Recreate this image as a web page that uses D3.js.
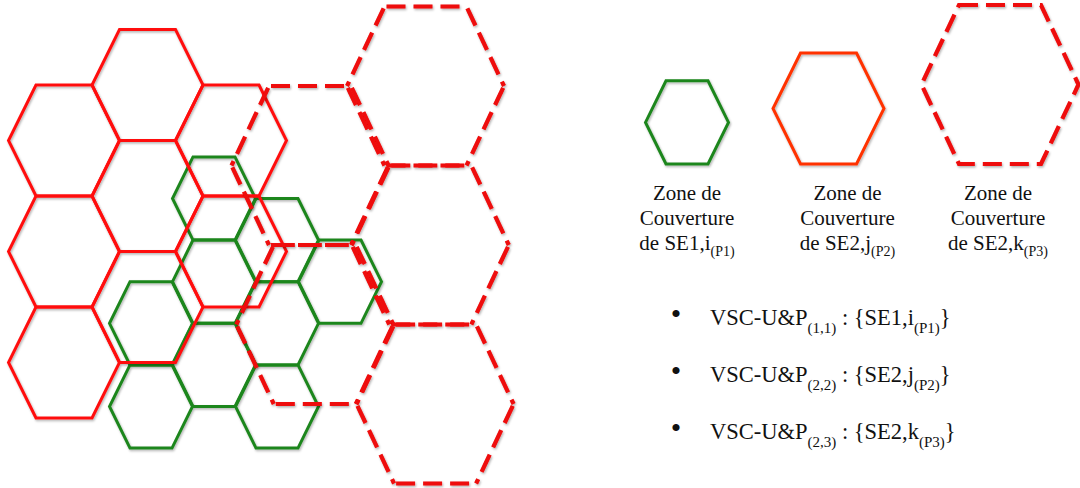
<!DOCTYPE html>
<html>
<head>
<meta charset="utf-8">
<script src="https://cdn.jsdelivr.net/npm/d3@7"></script>
<style>
  body { margin: 0; background: #fff; }
  svg { display: block; }
  text { font-family: "Liberation Serif", "Times New Roman", serif; fill: #111; }
</style>
</head>
<body>
<svg id="chart" width="1080" height="488"></svg>
<script>
// cells of each coverage layer, as [column, half-row] on its own lattice
const greenCells = [[0, 3], [0, 5], [1, 0], [1, 2], [1, 4], [2, 1], [2, 3], [2, 5], [3, 2]];
const redCells = [[0, 1], [0, 3], [0, 5], [1, 0], [1, 2], [1, 4], [2, 1], [2, 3]];
const dashedCells = [[0, 1], [0, 3], [1, 0], [1, 2], [1, 4]];

// legend texts
const legendKeys = ["green", "red", "dashed"];
const legendLine1 = ["Zone de", "Zone de", "Zone de"];
const legendLine2 = ["Couverture", "Couverture", "Couverture"];
const legendLine3 = ["de SE1,i", "de SE2,j", "de SE2,k"];
const legendSub = ["(P1)", "(P2)", "(P3)"];

// bullet list texts
const bulletIndex = ["(1,1)", "(2,2)", "(2,3)"];
const bulletSet = ["SE1,i", "SE2,j", "SE2,k"];
const bulletSub = ["(P1)", "(P2)", "(P3)"];

// hexagon shape per layer: half width, half top edge, half height
let shapes = {
    green:  {w: 41.5, a: 21, h: 41.6, color: "#1e861e", width: 3, dash: null},
    red:    {w: 55.5, a: 28, h: 55.5, color: "#ff1010", width: 3, dash: null},
    dashed: {w: 78.5, a: 41, h: 79.5, color: "#ee0808", width: 4.2, dash: "19,8"}
};

let svg = d3.select("#chart");

let defs = svg.append("defs");
defs.append("filter").attr("id", "shadow")
    .attr("x", "-10%").attr("y", "-10%").attr("width", "130%").attr("height", "130%")
    .append("feDropShadow")
    .attr("dx", 1).attr("dy", 1.5).attr("stdDeviation", 1)
    .attr("flood-color", "#000").attr("flood-opacity", 0.3);

let line = d3.line().curve(d3.curveLinearClosed);

function hexPoints(cx, cy, s) {
    return [[cx - s.a, cy - s.h], [cx + s.a, cy - s.h], [cx + s.w, cy],
            [cx + s.a, cy + s.h], [cx - s.a, cy + s.h], [cx - s.w, cy]];
}

function drawLayer(cells, key, x, y, skew) {
    let s = shapes[key];
    svg.append("g").attr("class", "layer-" + key).attr("filter", "url(#shadow)")
        .selectAll("path")
        .data(cells)
        .enter()
        .append("path")
        .attr("d", d => line(hexPoints(x(d[0]) + skew * d[1], y(d[1]), s)))
        .attr("fill", "none")
        .attr("stroke", s.color)
        .attr("stroke-width", s.width)
        .attr("stroke-linejoin", "miter");
}

// dashed layer: every edge drawn on its own, always in the same direction,
// so that edges shared by two cells keep the same dash phase
function drawDashedLayer(cells, key, x, y, skew) {
    let s = shapes[key];
    let edges = [];
    cells.forEach(d => {
        let p = hexPoints(x(d[0]) + skew * d[1], y(d[1]), s);
        p.forEach((a, i) => {
            let b = p[(i + 1) % 6];
            let flip = Math.abs(a[1] - b[1]) < 1 ? a[0] > b[0] : a[1] > b[1];
            edges.push(flip ? [b, a] : [a, b]);
        });
    });
    svg.append("g").attr("class", "layer-" + key).attr("filter", "url(#shadow)")
        .selectAll("line")
        .data(edges)
        .enter()
        .append("line")
        .attr("x1", e => e[0][0]).attr("y1", e => e[0][1])
        .attr("x2", e => e[1][0]).attr("y2", e => e[1][1])
        .attr("stroke", s.color)
        .attr("stroke-width", s.width)
        .attr("stroke-dasharray", s.dash)
        .attr("stroke-dashoffset", -2);
}

// lattice scales
let gx = d3.scaleLinear().domain([0, 3]).range([151, 340]);
let gy = d3.scaleLinear().domain([0, 5]).range([198.5, 406.5]);
let rx = d3.scaleLinear().domain([0, 2]).range([64, 231]);
let ry = d3.scaleLinear().domain([0, 5]).range([85, 362.5]);
let dx = d3.scaleLinear().domain([0, 1]).range([307.6, 425.5]);
let dy = d3.scaleLinear().domain([0, 4]).range([86, 404]);

drawLayer(greenCells, "green", gx, gy, 0);
drawLayer(redCells, "red", rx, ry, 0);
drawDashedLayer(dashedCells, "dashed", dx, dy, 2.4);

// legend
let lx = d3.scalePoint().domain(legendKeys).range([687, 998]);
let hexShift = {green: 0, red: -14, dashed: 2};
let textShift = {green: 0, red: 5, dashed: 0};
let legendColor = {green: "#1e861e", red: "#ff3300", dashed: "#ee0808"};
let hexBottom = 164;

let legend = svg.append("g").attr("class", "legend");
legend.selectAll("path")
    .data(legendKeys)
    .enter()
    .append("path")
    .attr("filter", "url(#shadow)")
    .attr("d", k => {
        let s = shapes[k];
        return line(hexPoints(lx(k) + hexShift[k], hexBottom - s.h, s));
    })
    .attr("fill", "none")
    .attr("stroke", k => legendColor[k])
    .attr("stroke-width", k => shapes[k].width)
    .attr("stroke-dasharray", k => shapes[k].dash);

legendKeys.forEach((k, i) => {
    let cx = lx(k) + textShift[k];
    let t = legend.append("text").attr("text-anchor", "middle").style("font-size", "21px");
    t.append("tspan").attr("x", cx).attr("y", 200).text(legendLine1[i]);
    let t2 = legend.append("text").attr("text-anchor", "middle").style("font-size", "21px");
    t2.append("tspan").attr("x", cx).attr("y", 225).text(legendLine2[i]);
    let t3 = legend.append("text").attr("text-anchor", "middle").style("font-size", "21px")
        .attr("x", cx).attr("y", 250);
    t3.append("tspan").text(legendLine3[i]);
    t3.append("tspan").attr("dy", 6).style("font-size", "14px").text(legendSub[i]);
});

// bullet list
let by = d3.scalePoint().domain(d3.range(bulletIndex.length)).range([325, 439]);
let bullets = svg.append("g").attr("class", "bullets");
bulletIndex.forEach((idx, i) => {
    bullets.append("text").attr("x", 676).attr("y", by(i) - 1)
        .attr("text-anchor", "middle").style("font-size", "30px").text("•");
    let t = bullets.append("text").attr("x", 710).attr("y", by(i)).style("font-size", "22.5px");
    t.append("tspan").text("VSC-U&P");
    t.append("tspan").attr("dy", 8).style("font-size", "15px").text(idx);
    t.append("tspan").attr("dy", -8).text(" : {" + bulletSet[i]);
    t.append("tspan").attr("dy", 8).style("font-size", "15px").text(bulletSub[i]);
    t.append("tspan").attr("dy", -8).text("}");
});
</script>
</body>
</html>
